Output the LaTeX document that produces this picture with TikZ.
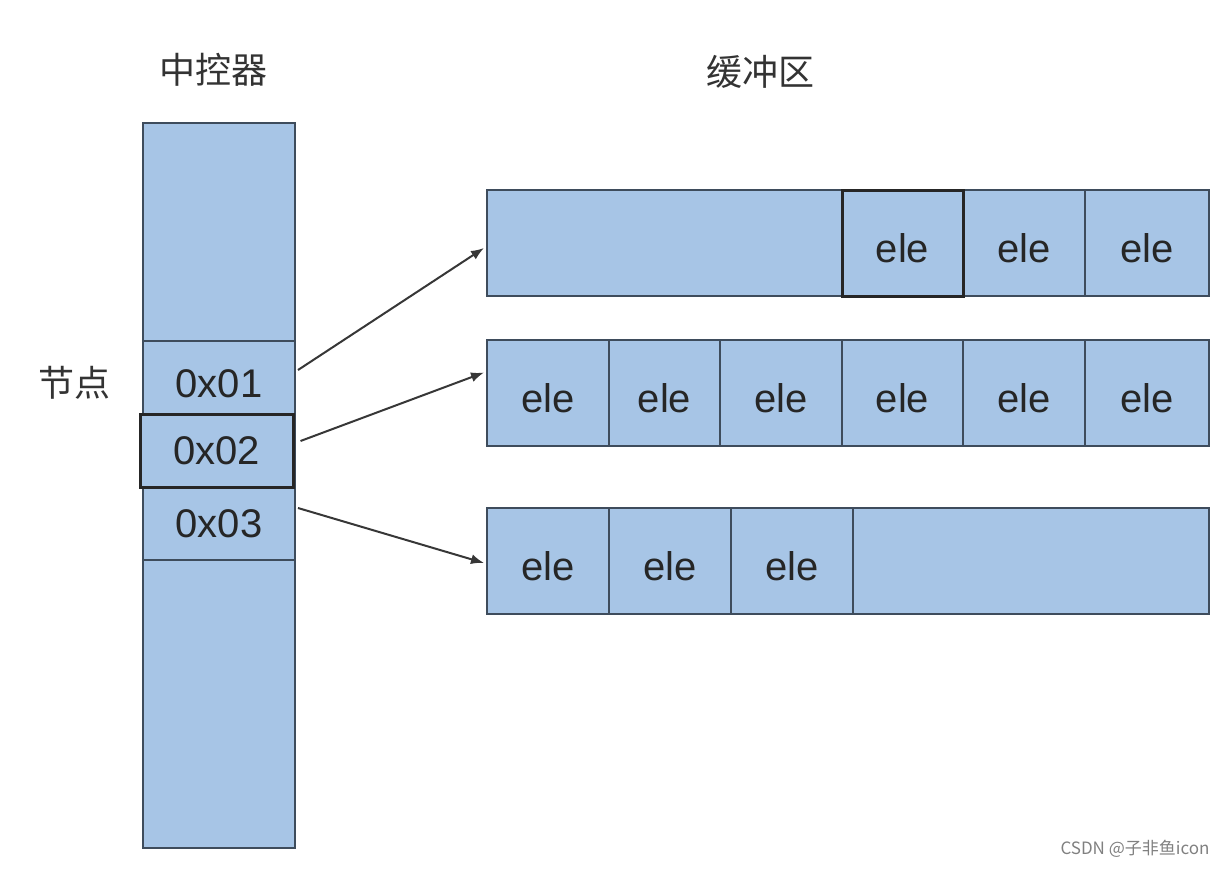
\documentclass[tikz,border=0pt]{standalone}
\usepackage{fontspec}
\setmainfont{Liberation Sans}
\newfontfamily\cjk{Noto Sans CJK SC}
\usetikzlibrary{arrows.meta,positioning}
\definecolor{cellblue}{RGB}{167,197,230}
\definecolor{edgegray}{RGB}{62,76,92}
\definecolor{arrowgray}{RGB}{55,55,55}
\tikzset{
  slot/.style={draw=edgegray, fill=cellblue, line width=2pt, inner sep=0pt, font=\fontsize{40}{48}\selectfont, text=black!85},
  low/.style={text height=39pt, text depth=0pt},
  hot/.style={draw=black!85, line width=3pt},
  elebox/.style={slot, low, minimum height=106pt},
  title/.style={font=\cjk\fontsize{36}{42}\selectfont, text=black!80},
  wmark/.style={font=\cjk\fontsize{17}{20}\selectfont, text=black!50},
  ptr/.style={-{Latex[length=13pt,width=10pt]}, draw=arrowgray, line width=2pt}
}
\begin{document}
\begin{tikzpicture}[x=1pt,y=-1pt]
                \useasboundingbox (0,0) rectangle (1229,868);
                % titles
                \node[title] (ctrltitle) at (213,70){中控器};
                \node[title] (buftitle) at (760,72){缓冲区};
                \node[title] (nodelabel) at (74,383){节点};
                % controller column
                \node[slot, minimum width=152pt, minimum height=725pt] (ctrl) at (219,485.5){};
                \node[slot, low, minimum width=152pt, minimum height=73pt] (n1) at (219,377.5){0x01};
                \node[slot, minimum width=152pt, minimum height=73pt] (n3) at (219,523.5){0x03};
                \node[slot, hot, minimum width=153pt, minimum height=73pt] (n2) at (216.5,450.5){0x02};
                % buffer rows
                \node[elebox, minimum width=722pt] (row1) at (848,243){};
                \node[elebox, minimum width=722pt] (row2) at (848,392.5){};
                \node[elebox, minimum width=722pt] (row3) at (848,560.5){};
                \foreach \a/\b [count=\i] in {963/1085,1085/1209}{
                    \pgfmathsetmacro\w{\b-\a}
                    \node[elebox, minimum width=\w pt] (ra\i) at ({(\a+\b)/2},243){ele};
                }
                \node[elebox, hot, minimum width=121pt] (ra0) at (902.5,243){ele};
                \foreach \a/\b [count=\i] in {487/609,609/720,720/842,842/963,963/1085,1085/1209}{
                    \pgfmathsetmacro\w{\b-\a}
                    \node[elebox, minimum width=\w pt] (rb\i) at ({(\a+\b)/2},392.5){ele};
                }
                \foreach \a/\b [count=\i] in {487/609,609/731,731/853}{
                    \pgfmathsetmacro\w{\b-\a}
                    \node[elebox, minimum width=\w pt] (rc\i) at ({(\a+\b)/2},560.5){ele};
                }
                % pointers
                \draw[ptr] ([xshift=2pt,yshift=7.5pt]n1.east) -- ([xshift=-2pt,yshift=-5pt]row1.west);
                \draw[ptr] ([xshift=6pt,yshift=9.5pt]n2.east) -- ([xshift=-2pt,yshift=20pt]row2.west);
                \draw[ptr] ([xshift=2pt,yshift=15.5pt]n3.east) -- ([xshift=-2pt,yshift=-2.5pt]row3.west);
                \node[wmark] (credit) at (1135,849){CSDN @子非鱼icon};
            \end{tikzpicture}
\end{document}
